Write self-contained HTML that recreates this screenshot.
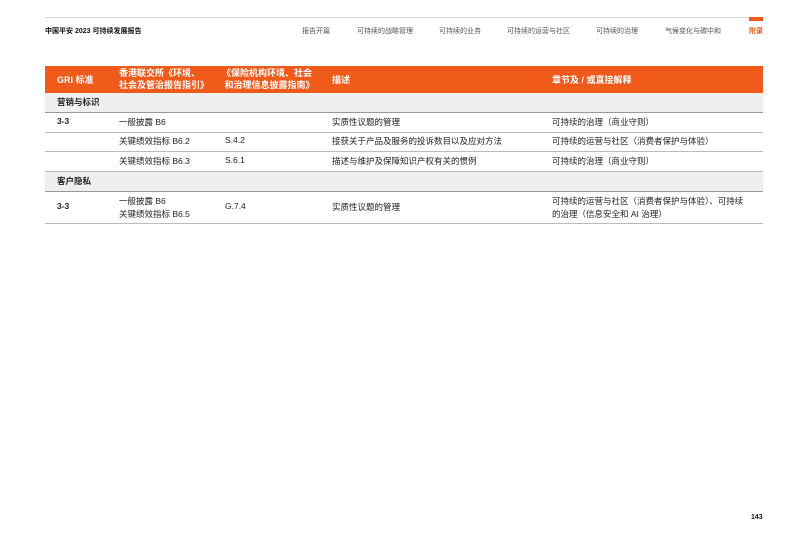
<!DOCTYPE html>
<html><head><meta charset="utf-8"><style>
body{margin:0;width:808px;height:539px;background:#fff;position:relative;font-family:"Liberation Sans","Noto Sans CJK SC",sans-serif;overflow:hidden}
.a{position:absolute;white-space:nowrap}
.nav{font-size:7px;color:#555;top:26px}
.t{font-size:8.5px;color:#222}
.b{font-weight:bold}
.h{font-size:9px;color:#fff;font-weight:bold}
.hline{position:absolute;left:45px;width:718px;height:1px;background:#bbb}
</style></head><body>
<div class="hline" style="top:17px;background:#d8d8d8"></div>
<div class="a" style="left:749px;top:17px;width:14px;height:4px;background:#f05a1a"></div>
<div class="a b" style="left:45px;top:26px;font-size:7px;color:#111">中国平安 2023 可持续发展报告</div>
<div class="a nav" style="left:302px">报告开篇</div>
<div class="a nav" style="left:357px">可持续的战略管理</div>
<div class="a nav" style="left:439px">可持续的业务</div>
<div class="a nav" style="left:507px">可持续的运营与社区</div>
<div class="a nav" style="left:596px">可持续的治理</div>
<div class="a nav" style="left:665px">气候变化与碳中和</div>
<div class="a nav b" style="left:749px;color:#f05a1a">附录</div>

<div class="a" style="left:45px;top:66px;width:718px;height:27px;background:#f05a1a"></div>
<div class="a h" style="left:57px;top:73px">GRI 标准</div>
<div class="a h" style="left:119px;top:67px;line-height:12px">香港联交所《环境、<br>社会及管治报告指引》</div>
<div class="a h" style="left:222px;top:67px;line-height:12px">《保险机构环境、社会<br>&nbsp;和治理信息披露指南》</div>
<div class="a h" style="left:332px;top:73px">描述</div>
<div class="a h" style="left:552px;top:73px">章节及 / 或直接解释</div>

<div class="a" style="left:45px;top:93px;width:718px;height:19px;background:#edf0ef"></div>
<div class="a t b" style="left:57px;top:96px">营销与标识</div>
<div class="hline" style="top:112px;background:#999"></div>
<div class="a t b" style="left:57px;top:116px">3-3</div>
<div class="a t" style="left:119px;top:116px">一般披露 B6</div>
<div class="a t" style="left:332px;top:116px">实质性议题的管理</div>
<div class="a t" style="left:552px;top:116px">可持续的治理（商业守则）</div>
<div class="hline" style="top:132px"></div>
<div class="a t" style="left:119px;top:135px">关键绩效指标 B6.2</div>
<div class="a t" style="left:225px;top:135px">S.4.2</div>
<div class="a t" style="left:332px;top:135px">接获关于产品及服务的投诉数目以及应对方法</div>
<div class="a t" style="left:552px;top:135px">可持续的运营与社区（消费者保护与体验）</div>
<div class="hline" style="top:151px"></div>
<div class="a t" style="left:119px;top:155px">关键绩效指标 B6.3</div>
<div class="a t" style="left:225px;top:155px">S.6.1</div>
<div class="a t" style="left:332px;top:155px">描述与维护及保障知识产权有关的惯例</div>
<div class="a t" style="left:552px;top:155px">可持续的治理（商业守则）</div>
<div class="hline" style="top:171px"></div>
<div class="a" style="left:45px;top:172px;width:718px;height:19px;background:#edf0ef"></div>
<div class="a t b" style="left:57px;top:175px">客户隐私</div>
<div class="hline" style="top:191px;background:#999"></div>
<div class="a t b" style="left:57px;top:201px">3-3</div>
<div class="a t" style="left:119px;top:195px;line-height:13px">一般披露 B6<br>关键绩效指标 B6.5</div>
<div class="a t" style="left:225px;top:201px">G.7.4</div>
<div class="a t" style="left:332px;top:201px">实质性议题的管理</div>
<div class="a t" style="left:552px;top:195px;line-height:13px">可持续的运营与社区（消费者保护与体验）、可持续<br>的治理（信息安全和 AI 治理）</div>
<div class="hline" style="top:223px"></div>

<div class="a b" style="left:751px;top:514px;font-size:7px;color:#111">143</div>
</body></html>
